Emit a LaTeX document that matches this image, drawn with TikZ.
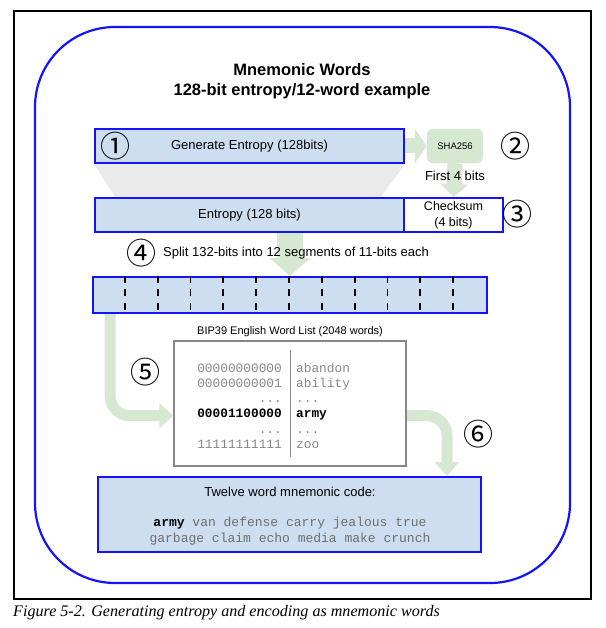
\documentclass[tikz,border=0pt]{standalone}
\usepackage{fontspec}
\setmainfont{Liberation Serif}
\setsansfont{Liberation Sans}
\setmonofont{Liberation Mono}
\newfontfamily\circfont{Noto Sans CJK SC}
\usetikzlibrary{arrows.meta}
\usetikzlibrary{positioning}
\usetikzlibrary{backgrounds}

\definecolor{boxblue}{RGB}{205,222,240}
\definecolor{lineblue}{RGB}{20,20,250}
\definecolor{flowgreen}{RGB}{214,232,210}
\definecolor{funnelgray}{RGB}{234,234,234}
\definecolor{listgray}{RGB}{135,135,135}
\definecolor{wordgray}{RGB}{110,110,110}
\newcommand{\tridots}{...}

\tikzset{
  bluebox/.style={draw=lineblue, line width=2pt, fill=boxblue, inner sep=0pt,
    font=\sffamily\fontsize{13}{16}\selectfont},
  shabox/.style={fill=flowgreen, rounded corners=5pt, inner sep=0pt,
    minimum width=56pt, minimum height=34pt, font=\sffamily\fontsize{9.5}{11}\selectfont},
  plaintext/.style={inner sep=0pt, font=\sffamily\fontsize{13}{15}\selectfont},
  circnum/.style={inner sep=0pt, font=\circfont\fontsize{30}{30}\selectfont},
  listcell/.style={inner sep=0pt, text=listgray, font=\ttfamily\fontsize{12.8}{15}\selectfont},
  flow/.style={draw=flowgreen, line width=11pt, -{Triangle[width=24pt,length=14pt]}},
}

\begin{document}
\begin{tikzpicture}[x=1pt,y=-1pt]
  \useasboundingbox (0,0) rectangle (605,628);
  % outer frames
  \draw[line width=1.2pt] (14,11) rectangle (591,599);
  \draw[lineblue, line width=2.2pt, rounded corners=80pt] (35,27) rectangle (570,583);

  \node[font=\sffamily\bfseries\fontsize{16.5}{20}\selectfont, align=center] (title) at (302,81)
    {Mnemonic Words\\128-bit entropy/12-word example};

  \node[bluebox, minimum width=309pt, minimum height=34pt] (gen) at (249.5,146) {Generate Entropy (128bits)};
  \node[shabox] (sha) at (455,146) {SHA256};
  \node[plaintext] (first) at (455,176) {First 4 bits};
  \node[bluebox, minimum width=309pt, minimum height=34pt] (entropy) at (249.5,215) {Entropy (128 bits)};
  \node[bluebox, fill=white, align=center, minimum width=99pt, minimum height=34pt,
    font=\sffamily\fontsize{12.5}{16}\selectfont] (checksum) at (453.5,215) {Checksum\\(4 bits)};

  \node[circnum] (n1) at (115,146) {①};
  \node[circnum] (n2) at (515,146) {②};
  \node[circnum] (n3) at (517,214) {③};
  \node[circnum] (n4) at (141,253) {④};
  \node[plaintext, anchor=west] (splittext) at (163,253) {Split 132-bits into 12 segments of 11-bits each};

  % 12 segments of 11 bits
  \node[bluebox, minimum width=394pt, minimum height=36pt] (split) at (290,295) {};
  \foreach \i in {1,...,11}
    \draw[line width=1.8pt, dash pattern=on 7pt off 6.3pt]
      ([xshift=\i*32.83pt]split.north west) -- ([xshift=\i*32.83pt]split.south west);

  % word list
  \node[plaintext, font=\sffamily\fontsize{11}{13}\selectfont] (listtitle) at (290,332)
    {BIP39 English Word List (2048 words)};
  \node[draw=listgray, line width=1.2pt, inner sep=0pt, minimum width=232pt, minimum height=125pt] (wordlist)
    at (290,403.5) {};
  \draw[listgray, line width=1pt] (290,350) -- (290,457);
  \foreach \k/\bits/\word in {1/00000000000/abandon, 2/00000000001/ability, 3/\tridots/\tridots,
                              5/\tridots/\tridots, 6/11111111111/zoo} {
    \node[listcell, anchor=base east] (bits\k) at (282,{372+(\k-1)*15.3}) {\bits};
    \node[listcell, anchor=base west] (word\k) at (296,{372+(\k-1)*15.3}) {\word};
  }
  \node[listcell, text=black, font=\ttfamily\bfseries\fontsize{12.8}{15}\selectfont, anchor=base east]
    (bits4) at (282,417.9) {00001100000};
  \node[listcell, text=black, font=\ttfamily\bfseries\fontsize{12.8}{15}\selectfont, anchor=base west]
    (word4) at (296,417.9) {army};
  \node[circnum] (n5) at (145,372) {⑤};
  \node[circnum] (n6) at (478,434) {⑥};

  % mnemonic code
  \node[bluebox, minimum width=383pt, minimum height=75pt] (code) at (289.5,514.5) {};
  \node[plaintext] (codetitle) at (290,492) {Twelve word mnemonic code:};
  \node[listcell, text=wordgray, align=center, font=\ttfamily\fontsize{13}{16}\selectfont] (words) at (290,531)
    {\textcolor{black}{\textbf{army}} van defense carry jealous true\\garbage claim echo media make crunch};

  \node[inner sep=0pt, anchor=west, font=\itshape\fontsize{16.1}{18}\selectfont] (caption) at (13,613)
    {Figure 5-2. Generating entropy and encoding as mnemonic words};

  \begin{scope}[on background layer]
    \fill[funnelgray] (gen.south west) -- (gen.south east) -- ([xshift=-24pt]entropy.north east)
      -- ([xshift=21pt]entropy.north west) -- cycle;
    \draw[flow, line width=15pt, -{Triangle[width=34pt,length=12pt]}] (gen.east) -- (sha.west);
    \draw[flow, line width=15pt, -{Triangle[width=28pt,length=13pt]}] (sha.south) -- (checksum.north);
    \draw[flow, line width=26pt, -{Triangle[width=40pt,length=18pt]}] (entropy.south -| split.north) -- (split.north);
    \draw[flow, rounded corners=20pt] ([xshift=18pt]split.south west) |- ([yshift=-2pt]wordlist.west |- bits4);
    \draw[flow, rounded corners=20pt] ([yshift=-2pt]wordlist.east |- bits4) -| ([xshift=-35pt]code.north east);
  \end{scope}
\end{tikzpicture}
\end{document}
